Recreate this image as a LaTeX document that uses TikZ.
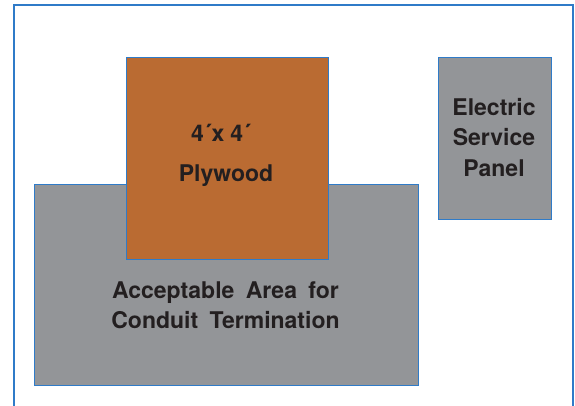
\documentclass[tikz,border=0pt]{standalone}
\usepackage{fontspec}
\newfontfamily\labelfont{TeX Gyre Heros}
\usetikzlibrary{positioning}

\definecolor{edgeblue}{HTML}{2F7BC8}
\definecolor{plyorange}{HTML}{BA6B32}
\definecolor{areagrey}{HTML}{939598}
\definecolor{inkdark}{HTML}{231F20}

\newcommand\labelstyle{\labelfont\bfseries\fontsize{23}{30}\selectfont\spaceskip 11.4pt\relax}

\begin{document}
\begin{tikzpicture}[x=1pt,y=-1pt,
                    block/.style={draw=edgeblue,line width=1pt,inner sep=0pt},
                    label/.style={text=inkdark,align=center,inner sep=0pt,font=\labelstyle}]
  \useasboundingbox (0,0) rectangle (575,406);

  \draw[edgeblue,line width=1.3pt] (14,406) -- (14,5) -- (573,5) -- (573,406);

  \node[block,fill=areagrey,minimum width=384pt,minimum height=200pt]  (area)  at (226,285)   {};
  \node[block,fill=plyorange,minimum width=202pt,minimum height=201pt] (ply)   at (227,158.5) {};
  \node[block,fill=areagrey,minimum width=113pt,minimum height=161pt]  (panel) at (494.5,138.5) {};

  \node[label,anchor=base] (size)   at (221,141.5) {4´x\hspace{6pt}4´};
  \node[label,anchor=base] (wood)   at (226,181.5) {Plywood};
  \node[label,anchor=base] (accept) at (225.5,298) {Acceptable Area for};
  \node[label,anchor=base] (term)   at (225.5,328) {Conduit Termination};
  \node[label,anchor=base] (elec)   at (494,116)   {Electric};
  \node[label,anchor=base] (serv)   at (494,146)   {Service};
  \node[label,anchor=base] (pan)    at (494,176)   {Panel};
\end{tikzpicture}
\end{document}
